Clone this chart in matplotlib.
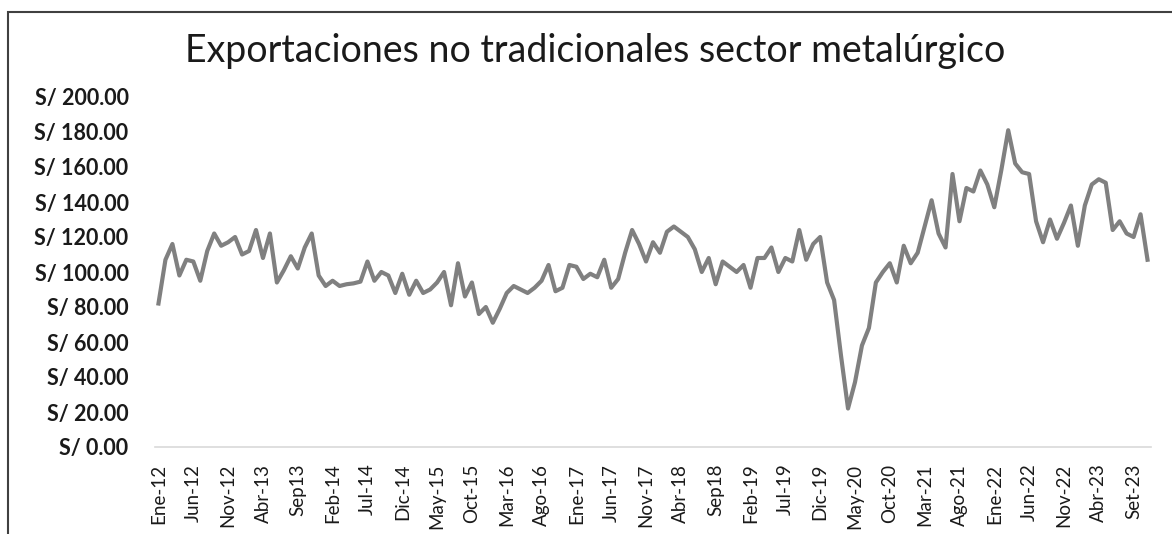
import numpy as np
import matplotlib
matplotlib.use("Agg")
import matplotlib.pyplot as plt
from matplotlib.patches import Rectangle

# datos mensuales Ene-12 .. Nov-23
valores = [
    82, 107, 116, 98, 107, 106, 95, 112, 122, 115, 117, 120,
    110, 112, 124, 108, 122, 94, 101, 109, 102, 114, 122, 98,
    92, 95, 92, 93, 93.5, 94.5, 106, 95, 100, 98, 88, 99,
    87, 95, 88, 90, 94, 100, 81, 105, 86, 94, 76, 80,
    71, 79, 88, 92, 90, 88, 91, 95, 104, 89, 91, 104,
    103, 96, 99, 97, 107, 91, 96, 111, 124, 116, 106, 117,
    111, 123, 126, 123, 120, 113, 100, 108, 93, 106, 103, 100,
    104, 91, 108, 108, 114, 100, 108, 106, 124, 107, 116, 120,
    94, 84, 52, 22, 37, 58, 68, 94, 100, 105, 94, 115,
    105, 111, 126, 141, 122, 114, 156, 129, 148, 146, 158, 150,
    137, 158, 181, 162, 157, 156, 129, 117, 130, 119, 128, 138,
    115, 138, 150, 153, 151, 124, 129, 122, 120, 133, 107,
]
etiquetas = ["Ene-12", "Jun-12", "Nov-12", "Abr-13", "Sep13", "Feb-14", "Jul-14",
             "Dic-14", "May-15", "Oct-15", "Mar-16", "Ago-16", "Ene-17", "Jun-17",
             "Nov-17", "Abr-18", "Sep18", "Feb-19", "Jul-19", "Dic-19", "May-20",
             "Oct-20", "Mar-21", "Ago-21", "Ene-22", "Jun-22", "Nov-22", "Abr-23",
             "Set-23"]
yticks = [0, 20, 40, 60, 80, 100, 120, 140, 160, 180, 200]

plt.rcParams['font.family'] = ['Lato', 'DejaVu Sans']

fig = plt.figure(figsize=(11.72, 5.34), dpi=100)
# marco del area del grafico
fig.patches.append(Rectangle((8 / 1172, -0.1), 1.2, (534 - 12) / 534 + 0.1,
                             transform=fig.transFigure, fill=False,
                             edgecolor='#404040', linewidth=1.5))

ax = fig.add_axes([155 / 1172, 87 / 534, 996 / 1172, 350 / 534])
x = np.arange(len(valores))
ax.plot(x, valores, color='#808080', linewidth=3.0, solid_joinstyle='round')

ax.set_xlim(-0.5, len(valores) - 0.5)
ax.set_ylim(0, 200)
ax.set_yticks(yticks)
ax.set_yticklabels(["S/ %.2f" % v for v in yticks], fontsize=15.5, fontweight='bold', color='#1a1a1a')
ax.set_xticks(np.arange(0, 5 * len(etiquetas), 5))
ax.set_xticklabels(etiquetas, rotation=90, fontsize=13.5, color='#1a1a1a')
ax.tick_params(axis='y', length=0, pad=19)
ax.tick_params(axis='x', length=0, pad=12)

for s in ['top', 'right', 'left']:
    ax.spines[s].set_visible(False)
ax.spines['bottom'].set_color('#d9d9d9')
ax.spines['bottom'].set_linewidth(1.2)

fig.text(0.508, 0.905, "Exportaciones no tradicionales sector metalúrgico",
         ha='center', va='center', fontsize=27, color='#1a1a1a')

fig.savefig("out.png", dpi=100)
